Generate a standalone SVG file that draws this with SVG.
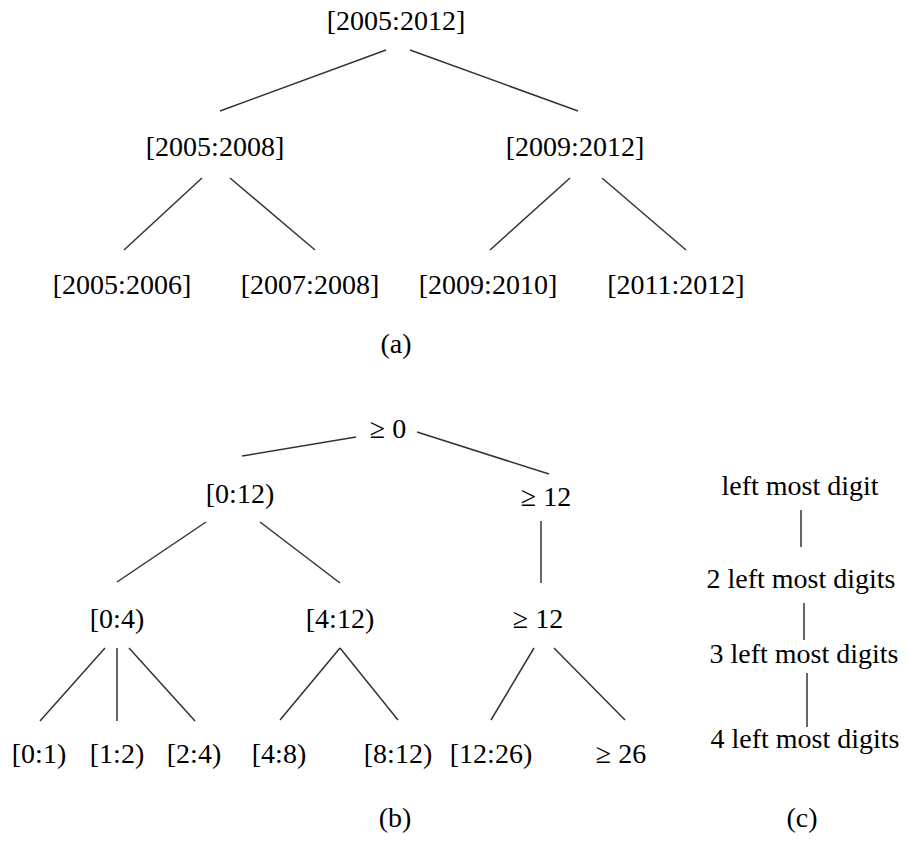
<svg xmlns="http://www.w3.org/2000/svg" width="908" height="846" viewBox="0 0 908 846">
<style>
.t text{font-size:28px;fill:#000;text-anchor:middle}
.e line{stroke:#333;stroke-width:1.5;fill:none}
</style>
<rect width="908" height="846" fill="#fff"/>
<g class="e" id="connectors">
<line x1="386" y1="50" x2="220" y2="111"/>
<line x1="410" y1="50" x2="578" y2="111"/>
<line x1="202" y1="178" x2="124" y2="250"/>
<line x1="230" y1="178" x2="315" y2="250"/>
<line x1="570" y1="178" x2="490" y2="250"/>
<line x1="602" y1="178" x2="686" y2="250"/>
<line x1="356" y1="437" x2="242" y2="456"/>
<line x1="417" y1="432" x2="549" y2="474"/>
<line x1="206" y1="522" x2="117" y2="582"/>
<line x1="260" y1="522" x2="340" y2="583"/>
<line x1="541" y1="521" x2="541" y2="583"/>
<line x1="105" y1="648" x2="40" y2="721"/>
<line x1="117" y1="648" x2="117" y2="721"/>
<line x1="129" y1="648" x2="195" y2="721"/>
<line x1="340" y1="648" x2="280" y2="720"/>
<line x1="340" y1="648" x2="398" y2="720"/>
<line x1="534" y1="648" x2="491" y2="720"/>
<line x1="554" y1="648" x2="625" y2="720"/>
<line x1="801" y1="510" x2="801" y2="547"/>
<line x1="804" y1="603" x2="804" y2="640"/>
<line x1="807" y1="673" x2="807" y2="727"/>
</g>
<g class="t" font-family="'Liberation Serif', 'DejaVu Serif', serif">
<g id="a-root"><text x="396" y="30">[2005:2012]</text></g>
<g id="a-l"><text x="215" y="156">[2005:2008]</text></g>
<g id="a-r"><text x="575" y="156">[2009:2012]</text></g>
<g id="a-ll"><text x="122" y="294">[2005:2006]</text></g>
<g id="a-lr"><text x="310" y="294">[2007:2008]</text></g>
<g id="a-rl"><text x="488" y="294">[2009:2010]</text></g>
<g id="a-rr"><text x="676" y="294">[2011:2012]</text></g>
<g id="cap-a"><text x="396" y="353">(a)</text></g>
<g id="b-root"><text x="388" y="438">≥ 0</text></g>
<g id="b-l"><text x="240" y="503">[0:12)</text></g>
<g id="b-r"><text x="546" y="506">≥ 12</text></g>
<g id="b-ll"><text x="117" y="628">[0:4)</text></g>
<g id="b-lr"><text x="340" y="628">[4:12)</text></g>
<g id="b-rr"><text x="538" y="628">≥ 12</text></g>
<g id="b-1"><text x="39" y="763">[0:1)</text></g>
<g id="b-2"><text x="117" y="763">[1:2)</text></g>
<g id="b-3"><text x="194" y="763">[2:4)</text></g>
<g id="b-4"><text x="279" y="763">[4:8)</text></g>
<g id="b-5"><text x="398" y="763">[8:12)</text></g>
<g id="b-6"><text x="491" y="763">[12:26)</text></g>
<g id="b-7"><text x="621" y="763">≥ 26</text></g>
<g id="cap-b"><text x="395" y="827">(b)</text></g>
<g id="c-1"><text x="800" y="495">left most digit</text></g>
<g id="c-2"><text x="801" y="588">2 left most digits</text></g>
<g id="c-3"><text x="804" y="663">3 left most digits</text></g>
<g id="c-4"><text x="805" y="748">4 left most digits</text></g>
<g id="cap-c"><text x="802" y="827">(c)</text></g>
</g>
</svg>
